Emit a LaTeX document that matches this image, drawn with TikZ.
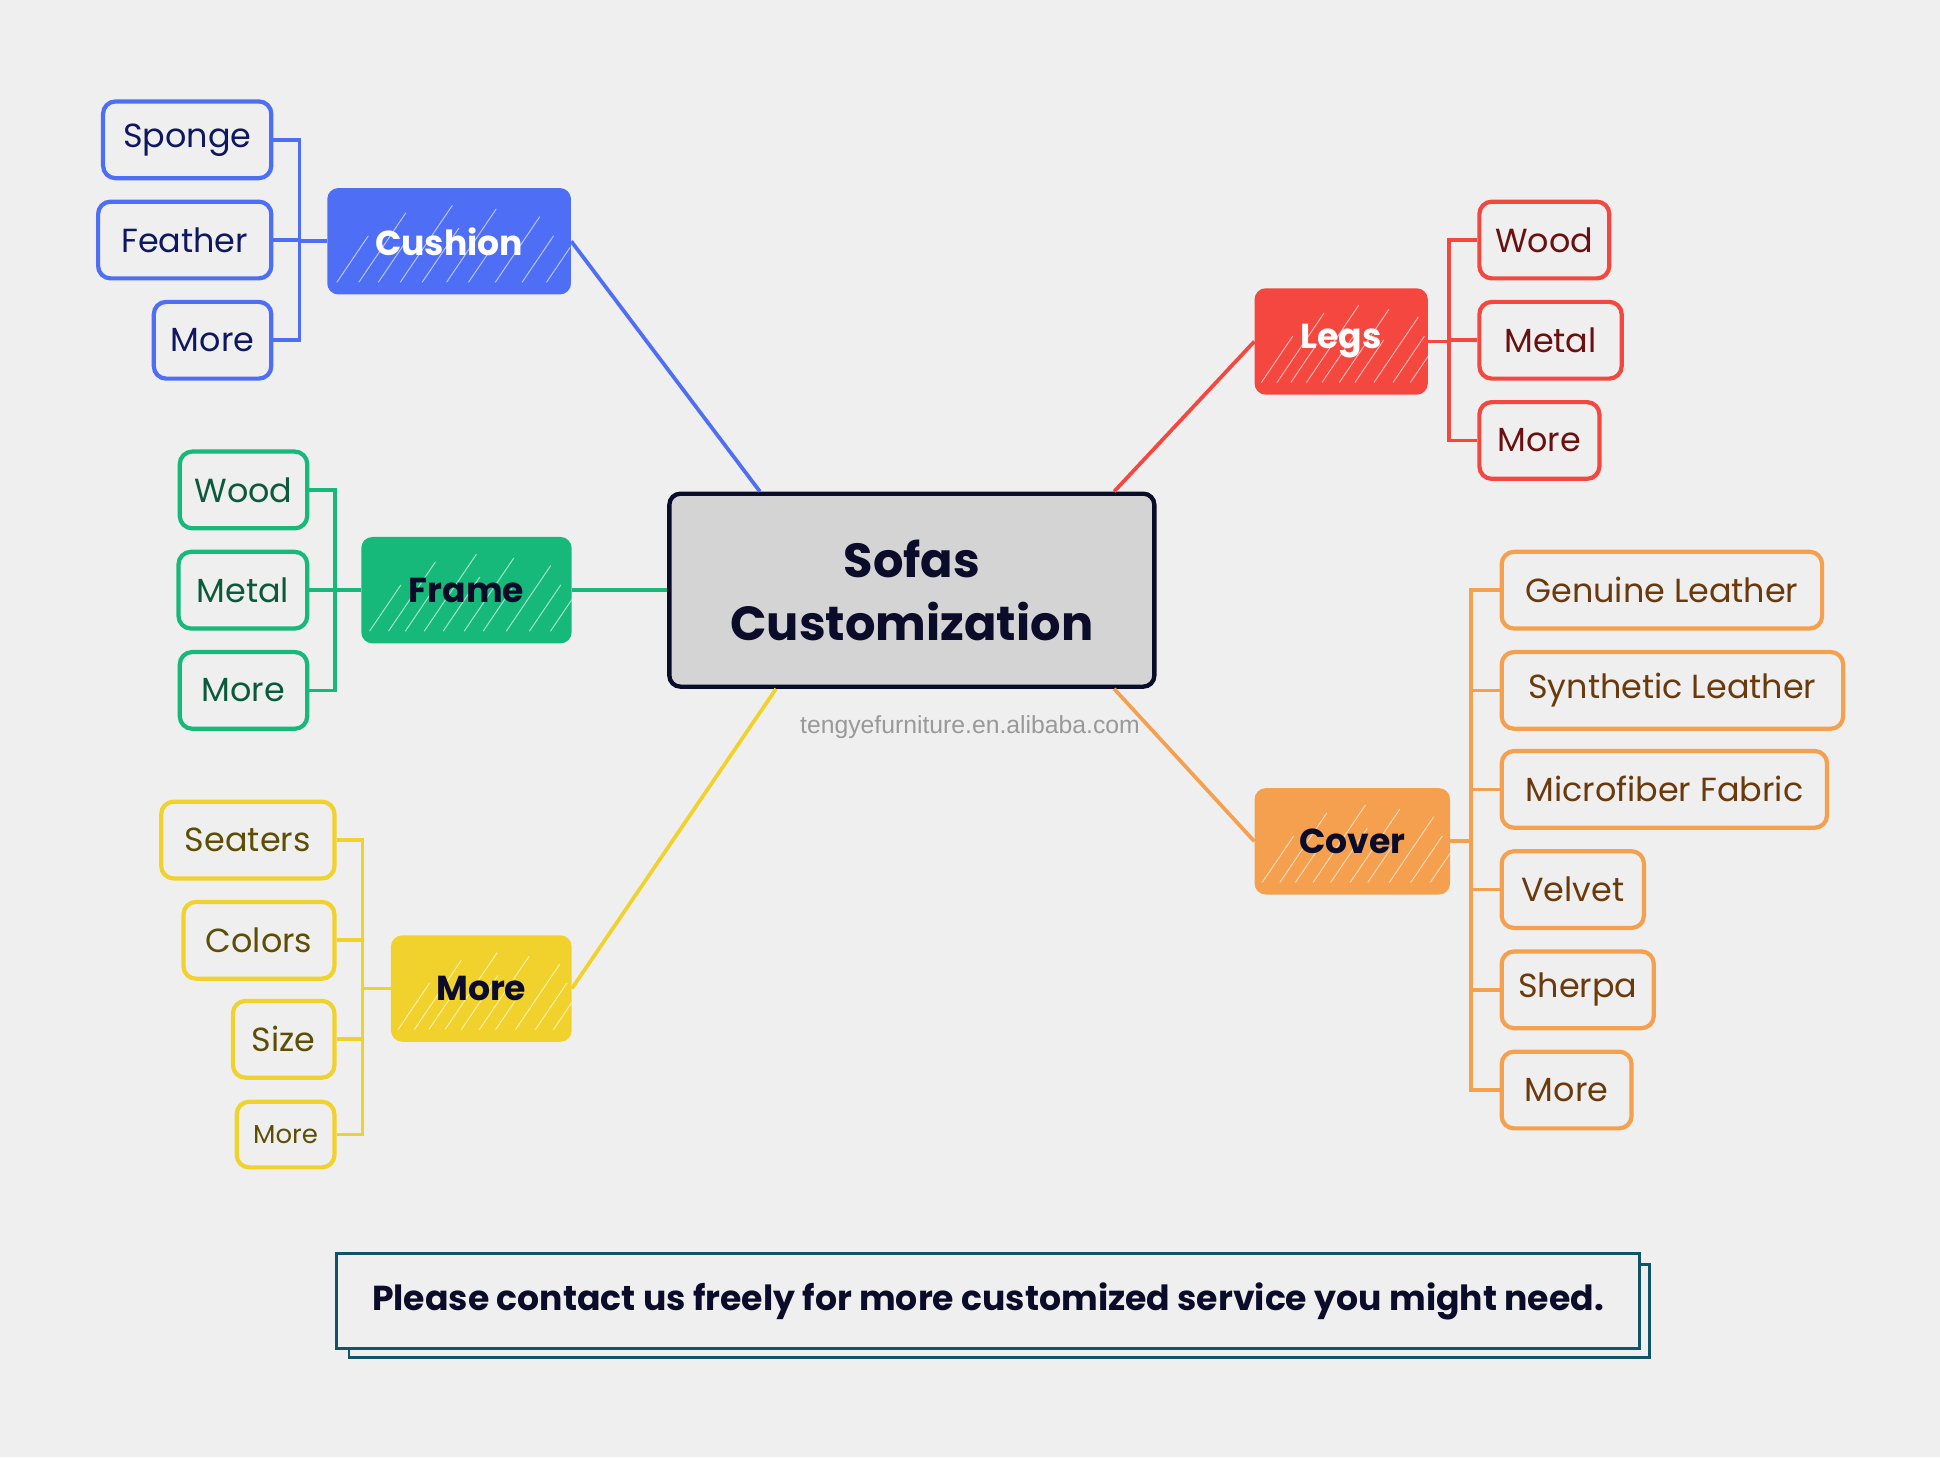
\documentclass[tikz,border=0pt]{standalone}
\usepackage{fontspec}
\setmainfont{Poppins}
\setsansfont{Liberation Sans}
\usetikzlibrary{positioning,calc}

\definecolor{bg}{HTML}{EFEFEF}
\definecolor{ink}{HTML}{0B0B2A}
\definecolor{centerfill}{HTML}{D4D4D4}
\definecolor{noteline}{HTML}{0F5468}
\definecolor{cblue}{HTML}{4E6EF6}
\definecolor{tblue}{HTML}{0E1760}
\definecolor{cgreen}{HTML}{17B97A}
\definecolor{tgreen}{HTML}{0C5A3C}
\definecolor{cyellow}{HTML}{F1D22C}
\definecolor{tyellow}{HTML}{5C4E05}
\definecolor{cred}{HTML}{F4473F}
\definecolor{tred}{HTML}{6A1010}
\definecolor{corange}{HTML}{F5A04E}
\definecolor{torange}{HTML}{6A3A0C}

\begin{document}
\begin{tikzpicture}[x=1pt, y=-1pt,
    leaf/.style={draw=c#1, text=t#1, line width=3.4pt, rounded corners=10pt,
      minimum height=62, inner sep=0pt, font=\fontsize{27}{30}\selectfont},
    branch/.style={fill=c#1, rounded corners=9pt, minimum height=86, inner sep=0pt,
      text=ink, font=\bfseries\fontsize{28}{32}\selectfont, hatch},
    link/.style={draw=c#1, line width=3pt},
    hatch/.style={path picture={
      \foreach \s/\l in {.04/.6,.13/.9,.21/.5,.3/1,.39/.7,.49/.95,.58/.55,.69/.85,.8/.6,.9/.45}
        \draw[white, opacity=.6, line width=.8pt, line cap=round]
          ($(path picture bounding box.south west)!\s!(path picture bounding box.south east)+(0,-10)$)
          -- ++(42*\l,-62*\l);
    }}
  ]

  % Sfondo
  \fill[bg] (0,0) rectangle (1568,1178);
  \useasboundingbox (0,0) rectangle (1568,1178);

  % Nodo centrale
  \node[draw=ink, fill=centerfill, line width=3.5pt, rounded corners=9pt,
        minimum width=392, minimum height=156, align=center, text=ink,
        font=\bfseries\fontsize{38.7}{51}\selectfont] (sofas) at (737,477) {Sofas\\Customization};
  \node[font=\sffamily\fontsize{20}{22}\selectfont, text=black!40] (web) at (784,588) {tengyefurniture.en.alibaba.com};

  % Rami principali
  \node[branch=blue, minimum width=197, text=white] (cushion) at (363,195) {Cushion};
  \node[branch=green, minimum width=170] (frame) at (377,477) {Frame};
  \node[branch=yellow, minimum width=146] (more) at (389,799) {More};
  \node[branch=red, minimum width=140, text=white] (legs) at (1084,276) {Legs};
  \node[branch=orange, minimum width=158] (cover) at (1093,680) {Cover};

  \draw[link=blue] (cushion.east) -- (sofas.147);
  \draw[link=green] (frame.east) -- (sofas.west);
  \draw[link=yellow] (more.east) -- (sofas.216);
  \draw[link=red] (legs.west) -- (sofas.26);
  \draw[link=orange] (cover.west) -- (sofas.-26);

  % Cushion
  \node[leaf=blue, minimum width=136, anchor=east] (sponge) at (221,113) {Sponge};
  \node[leaf=blue, minimum width=140, anchor=east] (feather) at (221,194) {Feather};
  \node[leaf=blue, minimum width=95, anchor=east] (cushionmore) at (221,275) {More};
  \coordinate (cushionbar) at (242,195);
  \foreach \n in {sponge,feather,cushionmore}
    \draw[link=blue] (\n.east) -| (cushionbar) -- (cushion.west);

  % Frame
  \node[leaf=green, minimum width=103, anchor=east] (framewood) at (250,396) {Wood};
  \node[leaf=green, minimum width=104, anchor=east] (framemetal) at (250,477) {Metal};
  \node[leaf=green, minimum width=103, anchor=east] (framemore) at (250,558) {More};
  \coordinate (framebar) at (271,477);
  \foreach \n in {framewood,framemetal,framemore}
    \draw[link=green] (\n.east) -| (framebar) -- (frame.west);

  % More
  \node[leaf=yellow, minimum width=140, anchor=east] (seaters) at (272,679) {Seaters};
  \node[leaf=yellow, minimum width=122, anchor=east] (colors) at (272,760) {Colors};
  \node[leaf=yellow, minimum width=82, anchor=east] (size) at (272,840) {Size};
  \node[leaf=yellow, minimum width=79, minimum height=53, anchor=east,
        font=\fontsize{21}{24}\selectfont] (moremore) at (272,917) {More};
  \coordinate (morebar) at (293,799);
  \foreach \n in {seaters,colors,size,moremore}
    \draw[link=yellow] (\n.east) -| (morebar) -- (more.west);

  % Legs
  \node[leaf=red, minimum width=105, anchor=west] (legswood) at (1194,194) {Wood};
  \node[leaf=red, minimum width=115, anchor=west] (legsmetal) at (1194,275) {Metal};
  \node[leaf=red, minimum width=97, anchor=west] (legsmore) at (1194,356) {More};
  \coordinate (legsbar) at (1171,276);
  \foreach \n in {legswood,legsmetal,legsmore}
    \draw[link=red] (\n.west) -| (legsbar) -- (legs.east);

  % Cover
  \node[leaf=orange, minimum width=259, anchor=west] (genuine) at (1212,477) {Genuine Leather};
  \node[leaf=orange, minimum width=276, anchor=west] (synthetic) at (1212,558) {Synthetic Leather};
  \node[leaf=orange, minimum width=263, anchor=west] (microfiber) at (1212,638) {Microfiber Fabric};
  \node[leaf=orange, minimum width=115, anchor=west] (velvet) at (1212,719) {Velvet};
  \node[leaf=orange, minimum width=123, anchor=west] (sherpa) at (1212,800) {Sherpa};
  \node[leaf=orange, minimum width=105, anchor=west] (covermore) at (1212,881) {More};
  \coordinate (coverbar) at (1189,680);
  \foreach \n in {genuine,synthetic,microfiber,velvet,sherpa,covermore}
    \draw[link=orange] (\n.west) -| (coverbar) -- (cover.east);

  % Nota in basso
  \draw[noteline, line width=2pt] (282,1022) rectangle (1333,1097);
  \node[draw=noteline, fill=bg, line width=2.5pt, minimum width=1053, minimum height=77,
        text=ink, font=\bfseries\fontsize{28}{32}\selectfont] (note) at (798.5,1051.5)
        {Please contact us freely for more customized service you might need.};

\end{tikzpicture}
\end{document}
